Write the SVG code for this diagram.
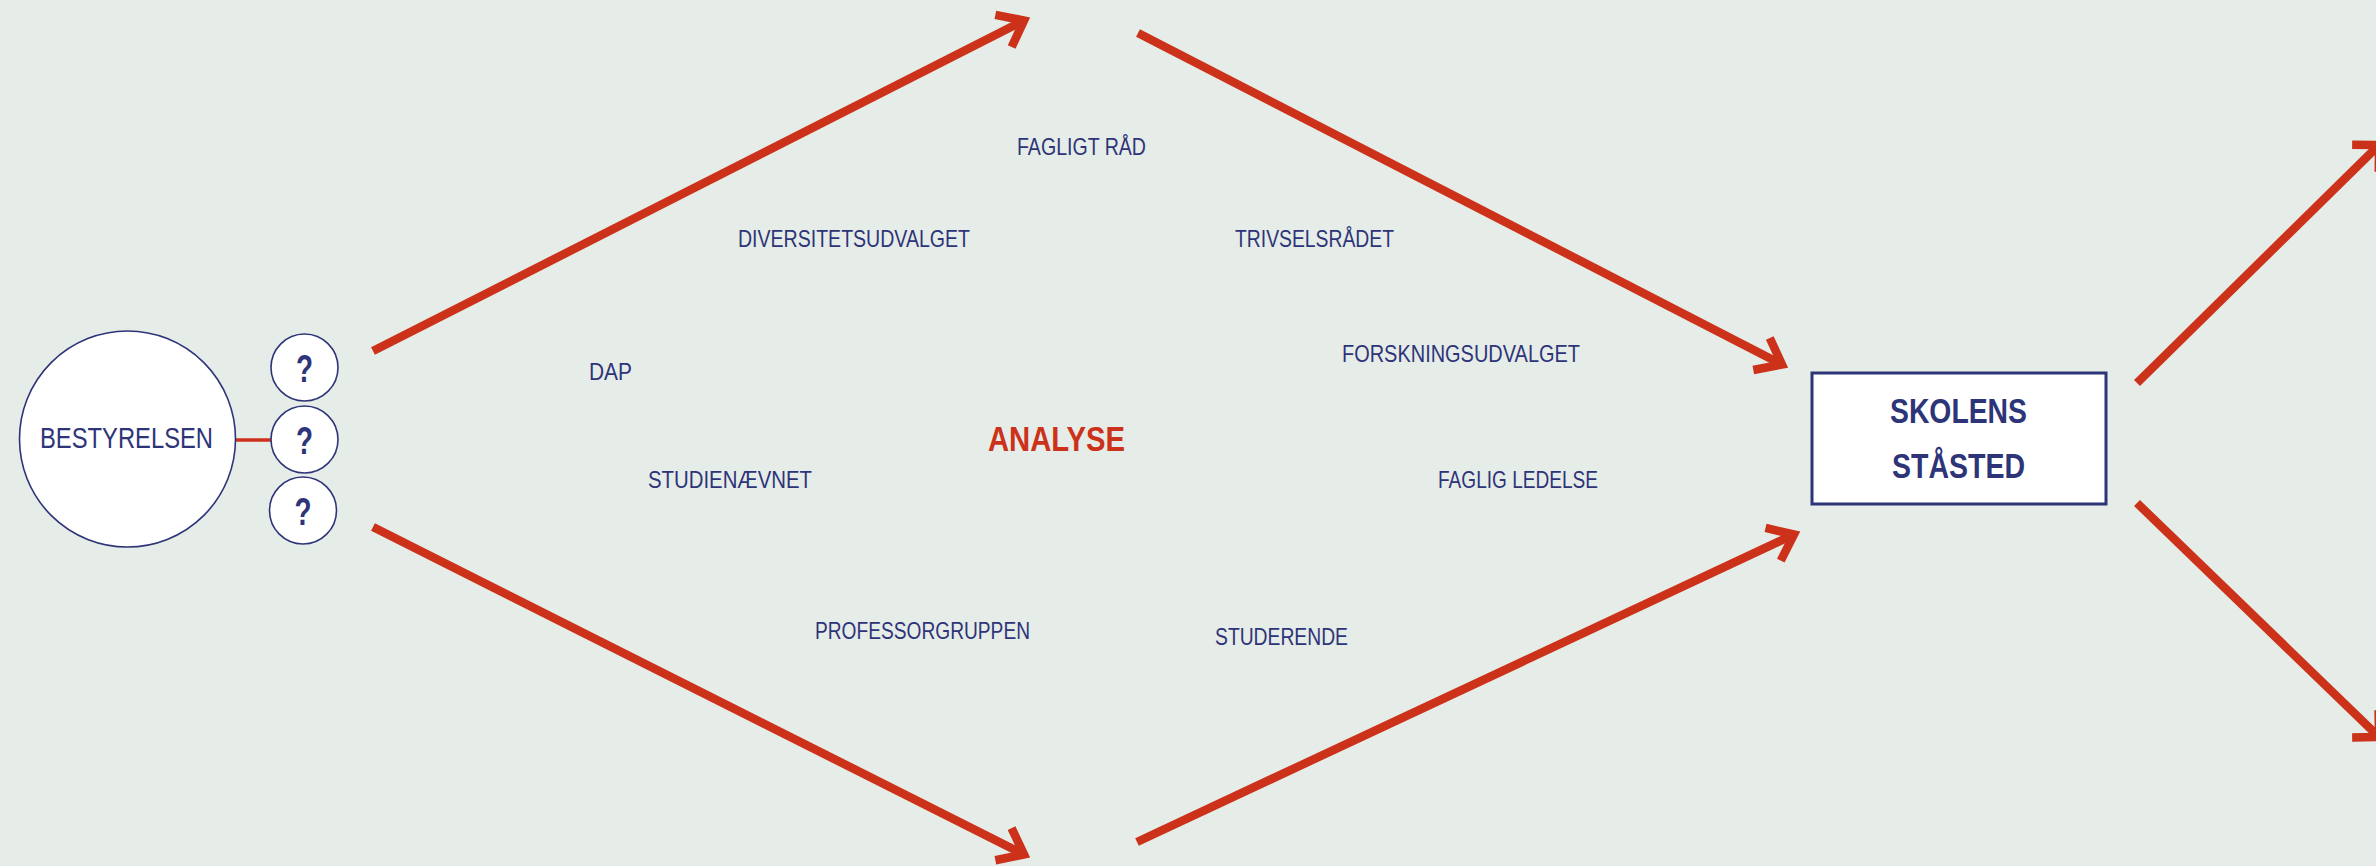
<svg xmlns="http://www.w3.org/2000/svg" width="2376" height="866" viewBox="0 0 2376 866">
  <style>
    .bg { fill: #e6ece8; }
    .node { fill: #ffffff; stroke: #2e3478; stroke-width: 1.6; }
    .box { fill: #ffffff; stroke: #2e3478; stroke-width: 3; }
    .lbl { font-family: "Liberation Sans", Arial, sans-serif; fill: #2e3478; font-size: 24px; text-anchor: middle; }
    .big { font-family: "Liberation Sans", Arial, sans-serif; fill: #2e3478; font-size: 30px; text-anchor: middle; }
    .q { font-family: "Liberation Sans", Arial, sans-serif; fill: #2e3478; font-size: 39px; font-weight: bold; text-anchor: middle; }
    .title { font-family: "Liberation Sans", Arial, sans-serif; fill: #2e3478; font-size: 35px; font-weight: bold; text-anchor: middle; }
    .red { font-family: "Liberation Sans", Arial, sans-serif; fill: #cc3119; font-size: 35px; font-weight: bold; text-anchor: middle; }
    .arrow { fill: none; stroke: #cc3119; stroke-width: 8.5; stroke-linecap: butt; }
    .thin { fill: none; stroke: #cc3119; stroke-width: 3.5; }
  </style>
  <defs>
    <marker id="head" markerUnits="userSpaceOnUse" orient="auto" markerWidth="60" markerHeight="60" refX="0" refY="0" viewBox="-30 -30 60 60" overflow="visible">
      <path d="M -23,-18 L 0,0 L -23,18" fill="none" stroke="#cc3119" stroke-width="8.5" stroke-linejoin="miter" stroke-miterlimit="10"/>
    </marker>
    <marker id="head45" markerUnits="userSpaceOnUse" orient="auto" markerWidth="60" markerHeight="60" refX="0" refY="0" viewBox="-30 -30 60 60" overflow="visible">
      <path d="M -19,-19 L 0,0 L -19,19" fill="none" stroke="#cc3119" stroke-width="8.5" stroke-linejoin="miter" stroke-miterlimit="10"/>
    </marker>
  </defs>

  <rect class="bg" x="0" y="0" width="2376" height="866"/>

  <g id="connectors">
    <line class="thin" x1="236" y1="440" x2="272" y2="440"/>
    <line class="arrow" x1="373" y1="351" x2="1024" y2="20.5" marker-end="url(#head)"/>
    <line class="arrow" x1="1138" y1="33" x2="1782" y2="364.5" marker-end="url(#head)"/>
    <line class="arrow" x1="373" y1="527" x2="1024" y2="854.5" marker-end="url(#head)"/>
    <line class="arrow" x1="1137" y1="842" x2="1794" y2="534.5" marker-end="url(#head)"/>
    <line class="arrow" x1="2137" y1="383" x2="2379" y2="145" marker-end="url(#head45)"/>
    <line class="arrow" x1="2137" y1="503" x2="2379" y2="737" marker-end="url(#head45)"/>
  </g>

  <g id="bestyrelsen">
    <circle class="node" cx="127.5" cy="439" r="108"/>
    <text class="big" x="126.5" y="447.5" textLength="173" lengthAdjust="spacingAndGlyphs">BESTYRELSEN</text>
  </g>
  <g id="q1">
    <circle class="node" cx="304.5" cy="367.5" r="33.5"/>
    <text class="q" x="304.5" y="382" textLength="17" lengthAdjust="spacingAndGlyphs">?</text>
  </g>
  <g id="q2">
    <circle class="node" cx="304.5" cy="439.5" r="33.5"/>
    <text class="q" x="304.5" y="453.5" textLength="17" lengthAdjust="spacingAndGlyphs">?</text>
  </g>
  <g id="q3">
    <circle class="node" cx="303" cy="510.5" r="33.5"/>
    <text class="q" x="303" y="524.5" textLength="17" lengthAdjust="spacingAndGlyphs">?</text>
  </g>

  <g id="analyse">
    <text class="red" x="1056.5" y="451" textLength="137" lengthAdjust="spacingAndGlyphs">ANALYSE</text>
  </g>
  <g id="fagligt-raad">
    <text class="lbl" x="1081.5" y="155" textLength="129" lengthAdjust="spacingAndGlyphs">FAGLIGT RÅD</text>
  </g>
  <g id="diversitetsudvalget">
    <text class="lbl" x="854" y="247" textLength="232" lengthAdjust="spacingAndGlyphs">DIVERSITETSUDVALGET</text>
  </g>
  <g id="trivselsraadet">
    <text class="lbl" x="1314.5" y="247" textLength="159" lengthAdjust="spacingAndGlyphs">TRIVSELSRÅDET</text>
  </g>
  <g id="forskningsudvalget">
    <text class="lbl" x="1461" y="362" textLength="238" lengthAdjust="spacingAndGlyphs">FORSKNINGSUDVALGET</text>
  </g>
  <g id="dap">
    <text class="lbl" x="610.5" y="380" textLength="43" lengthAdjust="spacingAndGlyphs">DAP</text>
  </g>
  <g id="studienaevnet">
    <text class="lbl" x="730" y="488" textLength="164" lengthAdjust="spacingAndGlyphs">STUDIENÆVNET</text>
  </g>
  <g id="faglig-ledelse">
    <text class="lbl" x="1518" y="488" textLength="160" lengthAdjust="spacingAndGlyphs">FAGLIG LEDELSE</text>
  </g>
  <g id="professorgruppen">
    <text class="lbl" x="922.5" y="639" textLength="215" lengthAdjust="spacingAndGlyphs">PROFESSORGRUPPEN</text>
  </g>
  <g id="studerende">
    <text class="lbl" x="1281.5" y="645" textLength="133" lengthAdjust="spacingAndGlyphs">STUDERENDE</text>
  </g>

  <g id="skolens-staasted">
    <rect class="box" x="1812" y="373" width="294" height="131"/>
    <text class="title" x="1958.5" y="423" textLength="137" lengthAdjust="spacingAndGlyphs">SKOLENS</text>
    <text class="title" x="1958.5" y="478" textLength="133" lengthAdjust="spacingAndGlyphs">STÅSTED</text>
  </g>
</svg>
